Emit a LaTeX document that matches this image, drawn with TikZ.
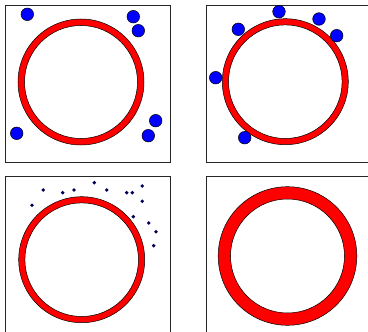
\documentclass[tikz,border=0pt]{standalone}
\begin{document}
\begin{tikzpicture}[x=1pt,y=-1pt,
  panel/.style={draw=black!85,line width=0.8pt},
  ring/.style={fill=red,draw=black,line width=0.5pt,even odd rule},
  ball/.style={fill=blue,draw=black,line width=0.5pt},
  speck/.style={fill=blue!35!black,draw=none}]
\useasboundingbox (0,0) rectangle (368,332);
% panel 1
\draw[panel] (5,5) rectangle (170,162);
\path[ring] (81,82) circle[radius=63] (81,82) circle[radius=56.5];
\foreach \p in {(27.3,14.3),(133.3,16.7),(138.3,30.7),(155.7,120.7),(148.3,135.7),(16.7,133.3)}
  \path[ball] \p circle[radius=6.3];
% panel 2
\draw[panel] (368.5,5) -- (206,5) -- (206,162) -- (368.5,162);
\path[ring] (285.3,81.7) circle[radius=63] (285.3,81.7) circle[radius=56.8];
\foreach \p in {(279,11.7),(238.3,29.3),(319,19),(336.7,35.7),(215.7,77.7),(244.7,137.7)}
  \path[ball] \p circle[radius=6.3];
% panel 3
\draw[panel] (5,333) -- (5,176) -- (170,176) -- (170,333);
\path[ring] (81.7,259.7) circle[radius=63] (81.7,259.7) circle[radius=56.8];
\foreach \p in {(32,205.3),(43.3,190),(62.7,192.7),(74,190),(94.3,182.7),(106.7,190),(126.7,192.7),(132.3,192.7),(142.3,186),(142.3,201.3),(133.3,216.7),(148.7,223),(156,231.7),(153.7,245.7)}
  \path[speck] \p circle[radius=1.9];
% panel 4
\draw[panel] (206,333) -- (206,176) -- (368.5,176);
\path[ring] (287.5,256) circle[radius=69.3] (287.5,256) circle[radius=57];
\end{tikzpicture}
\end{document}
